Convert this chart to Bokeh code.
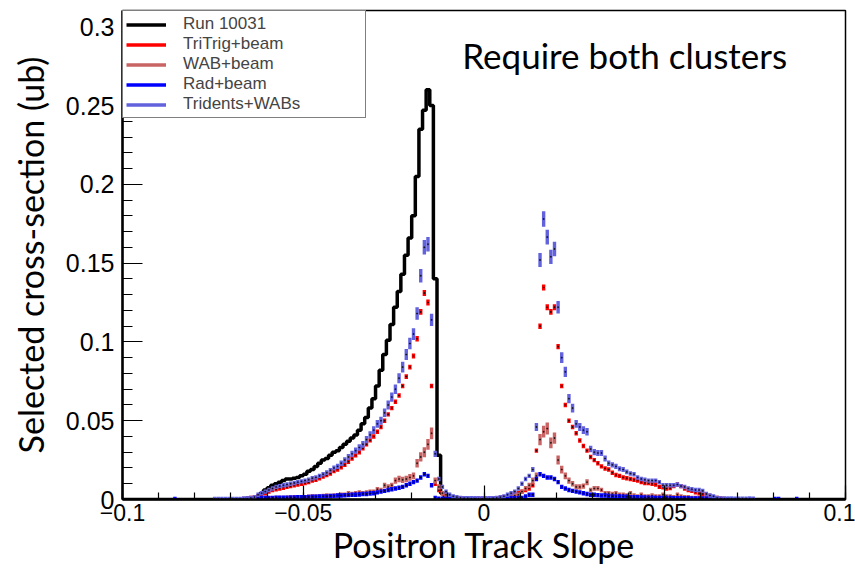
import numpy as np
from bokeh.plotting import figure
from bokeh.models import Range1d, FixedTicker, Legend, LegendItem, Label
from bokeh.embed import file_html
from bokeh.resources import INLINE

# ---------------- data ----------------
BIN_WIDTH = 0.001
X_MIN, X_MAX = -0.1, 0.1
LIST_START = -0.090   # left edge of the first value in each list below

x_ticks = [-0.1, -0.05, 0.0, 0.05, 0.1]
x_tick_labels = ["\u22120.1", "\u22120.05", "0", "0.05", "0.1"]
y_ticks = [0.0, 0.05, 0.1, 0.15, 0.2, 0.25, 0.3]
y_tick_labels = ["0", "0.05", "0.1", "0.15", "0.2", "0.25", "0.3"]

series_names = ["Run 10031", "TriTrig+beam", "WAB+beam", "Rad+beam", "Tridents+WABs"]

run_10031 = [
    0, 0, 0, 0, 0, 0, 0, 0, 0, 0,
    0, 0, 0, 0, 0, 0, 0, 0, 0, 0,
    0, 0, 0, 0, 0, 0, 0.0005, 0.002, 0.004, 0.006,
    0.0075, 0.009, 0.010, 0.011, 0.012, 0.013, 0.013, 0.0135, 0.014, 0.015,
    0.016, 0.018, 0.019, 0.021, 0.023, 0.025, 0.026, 0.028, 0.030, 0.031,
    0.033, 0.035, 0.037, 0.039, 0.041, 0.044, 0.048, 0.052, 0.058, 0.064,
    0.072, 0.082, 0.092, 0.101, 0.111, 0.122, 0.132, 0.143, 0.155, 0.166,
    0.180, 0.205, 0.235, 0.247, 0.260, 0.250, 0.140, 0.028, 0.004, 0.001,
]

tritrig_beam = [
    0, 0, 0, 0, 0, 0, 0, 0, 0, 0,
    0, 0, 0, 0, 0, 0, 0, 0, 0, 0,
    0, 0, 0, 0.0003, 0.0005, 0.001, 0.0015, 0.002, 0.003, 0.004,
    0.005, 0.006, 0.0065, 0.007, 0.0075, 0.008, 0.0085, 0.009, 0.0095, 0.010,
    0.0105, 0.011, 0.012, 0.0125, 0.0135, 0.0145, 0.0155, 0.0165, 0.018, 0.019,
    0.0205, 0.022, 0.024, 0.026, 0.028, 0.030, 0.0325, 0.035, 0.0375, 0.040,
    0.043, 0.046, 0.050, 0.054, 0.058, 0.062, 0.066, 0.072, 0.078, 0.084,
    0.091, 0.102, 0.119, 0.131, 0.125, 0.072, 0.010, 0.006, 0.004, 0.003,
    0.002, 0.001, 0.0008, 0.0005, 0.0005, 0.0003, 0.0003, 0.0003, 0.0003, 0.0003,
    0.0003, 0.0003, 0.0005, 0.0008, 0.001, 0.0015, 0.002, 0.003, 0.0035, 0.004,
    0.005, 0.006, 0.007, 0.009, 0.031, 0.110, 0.1345, 0.122, 0.119, 0.122,
    0.097, 0.072, 0.060, 0.050, 0.046, 0.042, 0.0374, 0.034, 0.031, 0.027,
    0.025, 0.023, 0.021, 0.0197, 0.019, 0.017, 0.0155, 0.015, 0.014, 0.0135,
    0.013, 0.0125, 0.012, 0.011, 0.0105, 0.0105, 0.010, 0.0095, 0.008, 0.0077,
    0.007, 0.0072, 0.0085, 0.0095, 0.0085, 0.007, 0.006, 0.0055, 0.0045, 0.004,
    0.0035, 0.003, 0.0022, 0.0015, 0.001, 0.0005, 0.0003, 0, 0, 0,
]

wab_beam = [
    0, 0, 0, 0, 0, 0, 0, 0, 0, 0,
    0, 0, 0, 0, 0, 0, 0, 0, 0, 0,
    0, 0, 0, 0, 0, 0, 0.0003, 0.0005, 0.0005, 0.0005,
    0.0008, 0.0008, 0.001, 0.001, 0.001, 0.0012, 0.0012, 0.0015, 0.0015, 0.0015,
    0.0015, 0.0018, 0.002, 0.002, 0.002, 0.0022, 0.0025, 0.0022, 0.0025, 0.0025,
    0.003, 0.003, 0.004, 0.0035, 0.004, 0.0045, 0.004, 0.0045, 0.005, 0.005,
    0.0065, 0.006, 0.009, 0.008, 0.009, 0.012, 0.013, 0.0125, 0.013, 0.014,
    0.015, 0.023, 0.027, 0.030, 0.035, 0.042, 0.012, 0.008, 0.004, 0.003,
    0.002, 0.001, 0.0008, 0.0005, 0.0003, 0.0003, 0.0003, 0, 0, 0,
    0, 0.0003, 0.0003, 0.0005, 0.0008, 0.001, 0.0015, 0.002, 0.0025, 0.003,
    0.005, 0.007, 0.009, 0.012, 0.015, 0.038, 0.043, 0.045, 0.036, 0.039,
    0.025, 0.019, 0.015, 0.012, 0.010, 0.008, 0.008, 0.0085, 0.011, 0.006,
    0.007, 0.007, 0.006, 0.004, 0.004, 0.0035, 0.004, 0.003, 0.003, 0.0025,
    0.004, 0.0025, 0.002, 0.003, 0.002, 0.002, 0.0025, 0.002, 0.002, 0.003,
    0.002, 0.002, 0.0015, 0.003, 0.002, 0.0015, 0.0015, 0.001, 0.001, 0.001,
    0.0008, 0.0005, 0.0005, 0.0003, 0.0003, 0, 0, 0, 0, 0,
]

rad_beam = [
    0, 0, 0, 0, 0.0003, 0, 0, 0, 0, 0,
    0, 0, 0, 0, 0, 0, 0, 0, 0, 0,
    0, 0, 0, 0.0003, 0.0005, 0.0005, 0.0005, 0.0008, 0.001, 0.001,
    0.001, 0.001, 0.0012, 0.0012, 0.0012, 0.0012, 0.0013, 0.0013, 0.0015, 0.0015,
    0.0015, 0.0016, 0.0017, 0.0018, 0.002, 0.002, 0.002, 0.0022, 0.0023, 0.0025,
    0.0025, 0.0027, 0.0028, 0.003, 0.003, 0.0032, 0.0035, 0.0035, 0.0038, 0.004,
    0.0045, 0.005, 0.0055, 0.006, 0.0065, 0.007, 0.0075, 0.008, 0.009, 0.010,
    0.011, 0.012, 0.014, 0.016, 0.015, 0.009, 0.001, 0.0005, 0.0005, 0.0005,
    0.0005, 0.0005, 0.0005, 0.0005, 0.0005, 0.0005, 0.0005, 0.0005, 0.0005, 0.0005,
    0.0005, 0.0005, 0.0005, 0.0005, 0.0005, 0.0005, 0.0005, 0.0008, 0.0008, 0.001,
    0.001, 0.002, 0.003, 0.003, 0.013, 0.016, 0.015, 0.014, 0.014, 0.013,
    0.011, 0.008, 0.007, 0.006, 0.0055, 0.005, 0.0045, 0.004, 0.0035, 0.003,
    0.003, 0.0028, 0.0025, 0.0025, 0.0022, 0.002, 0.002, 0.002, 0.0018, 0.0017,
    0.0015, 0.0015, 0.0015, 0.0013, 0.0013, 0.0012, 0.0012, 0.001, 0.001, 0.001,
    0.001, 0.001, 0.0009, 0.0009, 0.0008, 0.0008, 0.0008, 0.0007, 0.0007, 0.0007,
    0.0006, 0.0006, 0.0005, 0.0005, 0.0005, 0.0004, 0.0003, 0.0003, 0.0003, 0,
    0, 0, 0, 0.0003, 0, 0, 0, 0, 0, 0,
    0.0003, 0.0003, 0, 0, 0, 0, 0.0003, 0, 0, 0,
]

tridents_wabs = [
    0, 0, 0, 0, 0, 0, 0, 0, 0, 0,
    0, 0, 0, 0, 0, 0.0003, 0.0003, 0.0003, 0.0003, 0.0003,
    0.0003, 0.0003, 0.0003, 0.0005, 0.0005, 0.001, 0.0015, 0.003, 0.004, 0.005,
    0.006, 0.007, 0.008, 0.0085, 0.009, 0.0095, 0.010, 0.0105, 0.011, 0.0115,
    0.012, 0.0125, 0.0135, 0.014, 0.015, 0.016, 0.017, 0.0185, 0.020, 0.021,
    0.023, 0.025, 0.027, 0.029, 0.031, 0.033, 0.035, 0.038, 0.041, 0.044,
    0.048, 0.050, 0.055, 0.060, 0.065, 0.070, 0.077, 0.084, 0.092, 0.099,
    0.105, 0.118, 0.142, 0.160, 0.162, 0.114, 0.029, 0.013, 0.008, 0.005,
    0.003, 0.002, 0.0015, 0.001, 0.0008, 0.0008, 0.0006, 0.0006, 0.0005, 0.0005,
    0.0005, 0.0006, 0.0008, 0.001, 0.0015, 0.002, 0.003, 0.004, 0.005, 0.007,
    0.010, 0.013, 0.015, 0.019, 0.046, 0.152, 0.178, 0.1665, 0.154, 0.159,
    0.122, 0.090, 0.081, 0.064, 0.058, 0.048, 0.046, 0.044, 0.043, 0.032,
    0.030, 0.0295, 0.0295, 0.026, 0.023, 0.022, 0.021, 0.0195, 0.019, 0.0175,
    0.0165, 0.016, 0.014, 0.013, 0.0125, 0.012, 0.012, 0.012, 0.011, 0.009,
    0.009, 0.009, 0.009, 0.0095, 0.0085, 0.008, 0.007, 0.0065, 0.006, 0.006,
    0.0055, 0.0035, 0.0025, 0.002, 0.001, 0.0007, 0.0005, 0.0005, 0.0005, 0.0005,
    0.0005, 0.0005, 0.0005, 0.0005, 0.0005, 0, 0, 0, 0, 0,
]

# ---------------- styles ----------------
COL_RUN = "#000000"
COL_TRI = "#ff0000"
COL_WAB = "#c86464"
COL_RAD = "#0000ff"
COL_TW = "#6262dc"
ERR_SCALE = {"tri": 0.0053, "wab": 0.018, "rad": 0.003, "tw": 0.0115}
MIN_HALF = 0.0014
TICK_FONT = "Liberation Sans"
TITLE_FONT = "Lato"

N = int(round((X_MAX - X_MIN) / BIN_WIDTH))
edges = X_MIN + np.arange(N + 1) * BIN_WIDTH
centers = X_MIN + (np.arange(N) + 0.5) * BIN_WIDTH


def full(values):
    arr = np.zeros(N)
    i0 = int(round((LIST_START - X_MIN) / BIN_WIDTH))
    vals = np.asarray(values, dtype=float)
    arr[i0:i0 + len(vals)] = vals[: N - i0]
    return arr


p = figure(width=855, height=569, output_backend="svg", toolbar_location=None,
           x_range=Range1d(X_MIN, X_MAX), y_range=Range1d(0, 0.3103),
           min_border_left=122, min_border_right=10, min_border_top=10,
           min_border_bottom=70)
p.background_fill_color = "white"
p.border_fill_color = "white"
p.xgrid.visible = False
p.ygrid.visible = False
p.outline_line_color = "black"
p.outline_line_width = 1.5
p.outline_line_alpha = 1.0

# data histogram as step line
run = full(run_10031)
p.step(x=edges, y=np.append(run, run[-1]), mode="after",
       line_color=COL_RUN, line_width=3.5)


def draw_points(values, color, k):
    v = full(values)
    m = v > 0
    c = centers[m]
    v = v[m]
    half = np.maximum(k * np.sqrt(v), MIN_HALF)
    p.quad(left=c - 0.47 * BIN_WIDTH, right=c + 0.47 * BIN_WIDTH,
           bottom=v - half, top=v + half, fill_color=color, line_color=None)
    p.scatter(c, v, size=1.0, color="black", alpha=0.55, marker="square")


draw_points(tritrig_beam, COL_TRI, ERR_SCALE["tri"])
draw_points(wab_beam, COL_WAB, ERR_SCALE["wab"])
draw_points(rad_beam, COL_RAD, ERR_SCALE["rad"])
draw_points(tridents_wabs, COL_TW, ERR_SCALE["tw"])

# axes
xa = p.xaxis[0]
xa.ticker = FixedTicker(ticks=x_ticks, minor_ticks=list(np.round(np.arange(-0.1, 0.1001, 0.01), 3)))
xa.major_label_overrides = {t: l for t, l in zip(x_ticks, x_tick_labels)}
xa.axis_label = "Positron Track Slope"
ya = p.yaxis[0]
ya.ticker = FixedTicker(ticks=y_ticks, minor_ticks=list(np.round(np.arange(0, 0.31, 0.01), 3)))
ya.major_label_overrides = {t: l for t, l in zip(y_ticks, y_tick_labels)}
ya.axis_label = "Selected cross-section (ub)"

for ax in (xa, ya):
    ax.axis_line_width = 2.5
    ax.axis_line_color = "black"
    ax.major_tick_out = 0
    ax.minor_tick_out = 0
    ax.major_tick_line_color = "black"
    ax.minor_tick_line_color = "black"
    ax.major_tick_line_width = 1.2
    ax.minor_tick_line_width = 1.2
    ax.major_label_text_font = TICK_FONT
    ax.major_label_text_color = "black"
    ax.axis_label_text_font = TITLE_FONT
    ax.axis_label_text_font_style = "normal"
    ax.axis_label_text_color = "black"
    ax.axis_label_text_font_size = "34px"

xa.major_tick_in = 14
xa.minor_tick_in = 7
xa.major_label_text_font_size = "23px"
xa.major_label_standoff = 4
xa.axis_label_standoff = 0
ya.major_tick_in = 20
ya.minor_tick_in = 10
ya.major_label_text_font_size = "25px"
ya.major_label_standoff = 8
ya.axis_label_standoff = 12

# legend (line samples, as in the original)
colors = [COL_RUN, COL_TRI, COL_WAB, COL_RAD, COL_TW]
items = []
for name, col in zip(series_names, colors):
    r = p.line(x=[np.nan], y=[np.nan], line_color=col, line_width=3.5)
    items.append(LegendItem(label=name, renderers=[r]))
legend = Legend(items=items, location="top_left", margin=0, padding=3, spacing=0,
                glyph_width=40, glyph_height=17, label_height=17, label_standoff=17,
                label_width=179, label_text_font=TICK_FONT, label_text_font_size="17px",
                border_line_color="black", border_line_width=1,
                background_fill_color="white", background_fill_alpha=1.0)
p.add_layout(legend, "center")

p.add_layout(Label(x=-0.006, y=0.2818, text="Require both clusters",
                   text_font=TITLE_FONT, text_font_size="35px",
                   text_baseline="alphabetic", text_color="black"))

open("out.html", "w").write(file_html(p, INLINE))
